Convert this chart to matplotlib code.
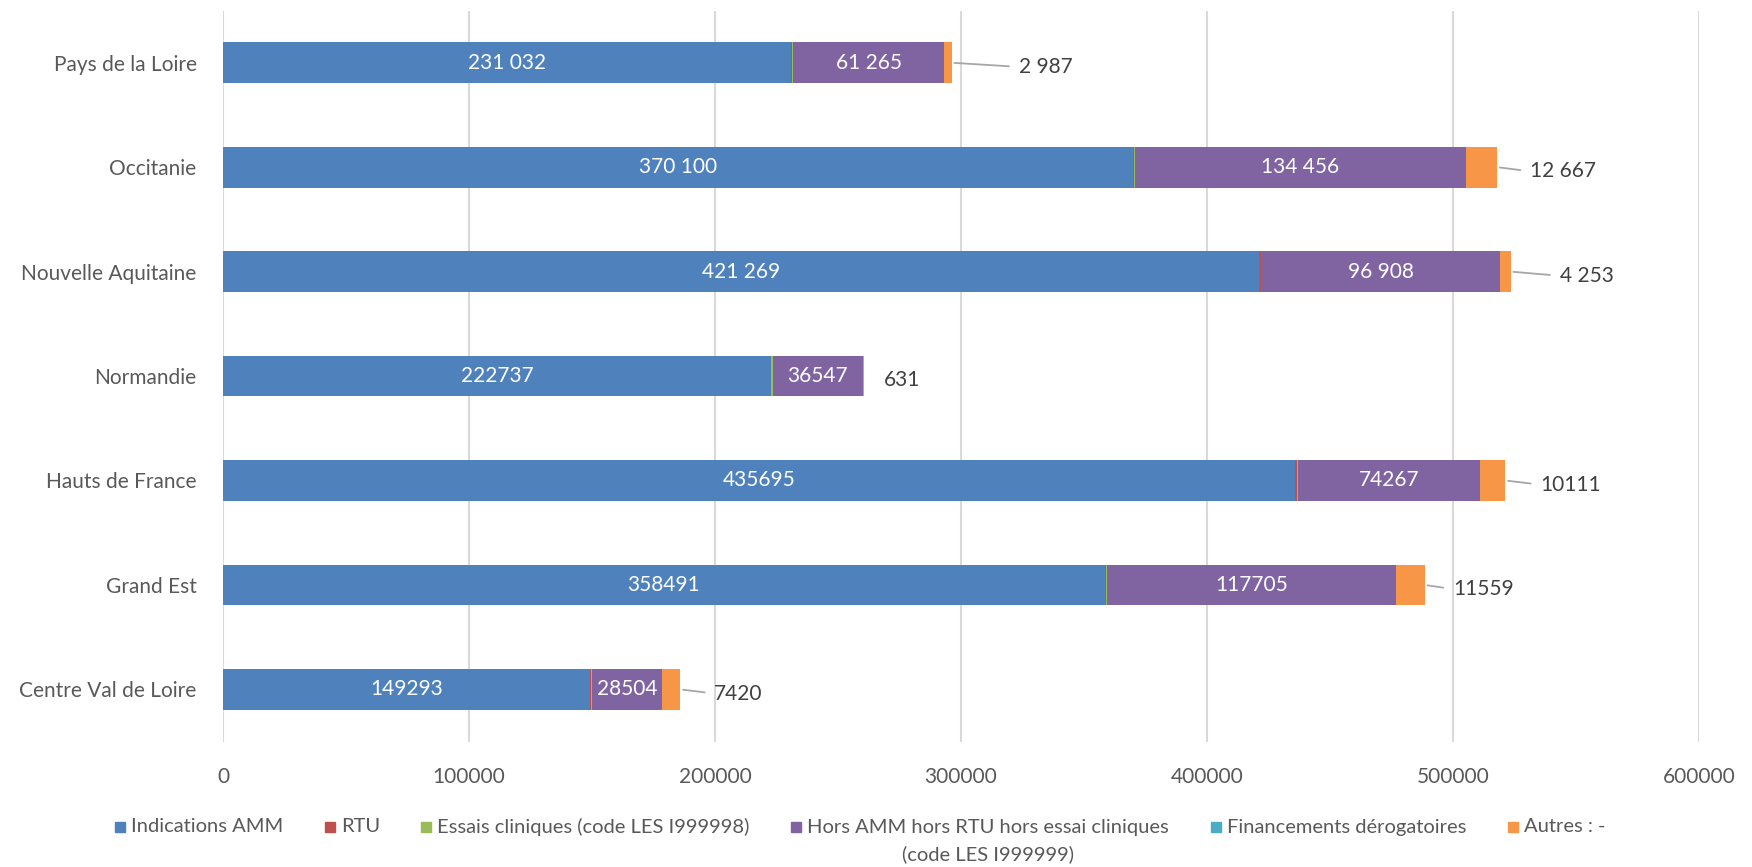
import matplotlib
matplotlib.use("Agg")
import matplotlib.pyplot as plt
from matplotlib.patches import Rectangle

plt.rcParams['font.family'] = ['Lato', 'DejaVu Sans']

categories = ["Centre Val de Loire", "Grand Est", "Hauts de France", "Normandie",
              "Nouvelle Aquitaine", "Occitanie", "Pays de la Loire"]
amm = [149293, 358491, 435695, 222737, 421269, 370100, 231032]
rtu = [300, 400, 900, 200, 500, 400, 300]
essais = [300, 300, 200, 600, 300, 200, 500]
hors = [28504, 117705, 74267, 36547, 96908, 134456, 61265]
financ = [100, 100, 100, 50, 200, 100, 100]
autres = [7420, 11559, 10111, 631, 4253, 12667, 2987]

amm_labels = ["149293", "358491", "435695", "222737", "421 269", "370 100", "231 032"]
hors_labels = ["28504", "117705", "74267", "36547", "96 908", "134 456", "61 265"]
autres_labels = ["7420", "11559", "10111", "631", "4 253", "12 667", "2 987"]

series_names = ["Indications AMM", "RTU", "Essais cliniques (code LES I999998)",
                "Hors AMM hors RTU hors essai cliniques\n(code LES I999999)",
                "Financements dérogatoires", "Autres : -"]
xticks = [0, 100000, 200000, 300000, 400000, 500000, 600000]

colors = ["#4F81BD", "#C0504D", "#9BBB59", "#8064A2", "#4BACC6", "#F79646"]
series = [amm, rtu, essais, hors, financ, autres]

W, H = 1752, 867
fig = plt.figure(figsize=(W / 100, H / 100), dpi=100)
ax = fig.add_axes([223 / W, (H - 741.6) / H, (1699 - 223) / W, 731.1 / H])

ypos = list(range(len(categories)))
left = [0] * len(categories)
bar_h = 0.39
for vals, col in zip(series, colors):
    ax.barh(ypos, vals, left=left, height=bar_h, color=col, zorder=3)
    left = [l + v for l, v in zip(left, vals)]

# white labels in blue and purple segments
for i in ypos:
    ax.text(amm[i] / 2, i, amm_labels[i], color="white", ha="center", va="center",
            fontsize=15, zorder=4)
    hstart = amm[i] + rtu[i] + essais[i]
    ax.text(hstart + hors[i] / 2, i, hors_labels[i], color="white", ha="center",
            va="center", fontsize=15, zorder=4)

# outside labels for "Autres"
offsets_px = [34, 28, 35, 19, 49, 33, 67]
for i in ypos:
    end = left[i]
    show_line = offsets_px[i] > 25
    ax.annotate(autres_labels[i], xy=(end, i), xytext=(offsets_px[i] * 0.72, -3),
                textcoords="offset points", ha="left", va="center", fontsize=15,
                color="#404040", zorder=5,
                arrowprops=dict(arrowstyle="-", color="#A6A6A6", lw=1.3,
                                shrinkA=5, shrinkB=2, relpos=(0, 0.5))
                if show_line else None)

ax.set_xlim(0, 600000)
ax.set_ylim(-0.5, len(categories) - 0.5)
ax.set_xticks(xticks)
ax.set_xticklabels([str(t) for t in xticks])
ax.set_yticks(ypos)
ax.set_yticklabels(categories)
ax.tick_params(axis="both", length=0, labelsize=15, labelcolor="#595959")
ax.tick_params(axis="y", pad=19)
ax.tick_params(axis="x", pad=18)
ax.grid(axis="x", color="#D9D9D9", lw=1.5, zorder=0)
for s in ax.spines.values():
    s.set_visible(False)

# legend (manual flow layout, measured text widths)
renderer = fig.canvas.get_renderer()
ly = 827
leg_fs = 14.5
texts = []
for name in series_names:
    lines = name.split("\n")
    t1 = fig.text(0, (H - ly) / H, lines[0], ha="left", va="center",
                  fontsize=leg_fs, color="#595959")
    t2 = None
    if len(lines) > 1:
        t2 = fig.text(0, (H - ly - 27) / H, lines[1], ha="left", va="center",
                      fontsize=leg_fs, color="#595959")
    texts.append((t1, t2))

widths = []
for t1, t2 in texts:
    w = t1.get_window_extent(renderer).width
    if t2 is not None:
        w = max(w, t2.get_window_extent(renderer).width)
    widths.append(w)

x_start, x_end = 115, 1605
sq, sgap = 10, 6
total_items = sum(sq + sgap + w for w in widths)
gap = (x_end - x_start - total_items) / (len(widths) - 1)
x = x_start
for (t1, t2), w, col in zip(texts, widths, colors):
    fig.patches.append(Rectangle((x / W, (H - ly - 5) / H), sq / W, sq / H,
                                 transform=fig.transFigure, color=col))
    t1.set_x((x + sq + sgap) / W)
    if t2 is not None:
        # second line centred under the first, as in the reference
        w1 = t1.get_window_extent(renderer).width
        w2 = t2.get_window_extent(renderer).width
        t2.set_x((x + sq + sgap + (w1 - w2) / 2) / W)
    x += sq + sgap + w + gap

fig.savefig("out.png", dpi=100)
